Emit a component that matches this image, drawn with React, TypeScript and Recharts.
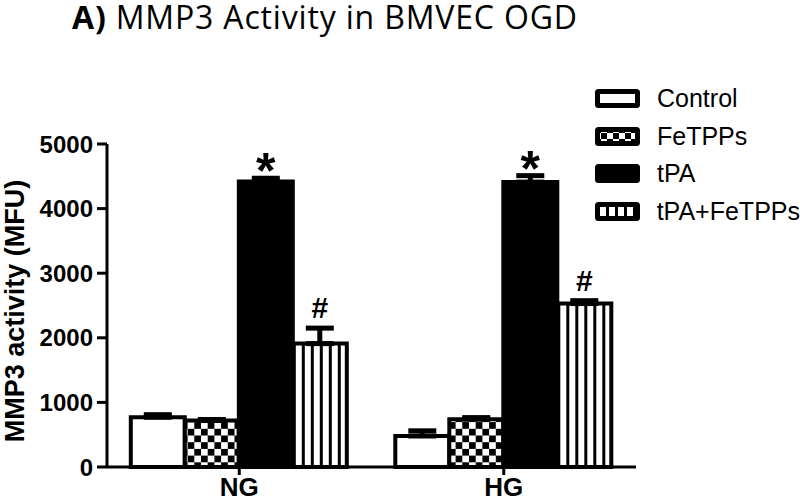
import React from "react";
import { BarChart, Bar, XAxis, YAxis, ErrorBar, LabelList, Legend } from "recharts";

const categories = ["NG", "HG"];
const controlVals = [770, 480];
const controlErr = [40, 80];
const fetppsVals = [720, 740];
const fetppsErr = [15, 25];
const tpaVals = [4420, 4410];
const tpaErr = [50, 100];
const comboVals = [1910, 2530];
const comboErr = [240, 45];
const yTicks = [0, 1000, 2000, 3000, 4000, 5000];

const data = categories.map((c, i) => ({
  name: c,
  control: controlVals[i],
  controlErr: [0, controlErr[i]],
  fetpps: fetppsVals[i],
  fetppsErr: [0, fetppsErr[i]],
  tpa: tpaVals[i],
  tpaErr: [0, tpaErr[i]],
  combo: comboVals[i],
  comboErr: [0, comboErr[i]],
}));

const AXIS_FONT = "'Liberation Sans', Arial, sans-serif";

// symbol above the error bar, placed using the bar's own pixel scale
function markLabel(sym: string, errs: number[], fontSize: number, lift: number) {
  return (props: any) => {
    const { x, y, width, height, value, index } = props;
    const pxPer = height / value;
    const top = y - errs[index] * pxPer;
    return (
      <text
        x={x + width / 2}
        y={top - lift}
        textAnchor="middle"
        fontFamily={AXIS_FONT}
        fontWeight="bold"
        fontSize={fontSize}
        fill="#000"
      >
        {sym}
      </text>
    );
  };
}

function Swatch({ kind }: { kind: string }) {
  const id = "lg-" + kind;
  return (
    <svg width={45} height={19} style={{ display: "block" }}>
      <defs>
        <pattern id={id + "-chk"} width={12} height={12} patternUnits="userSpaceOnUse">
          <rect width={12} height={12} fill="#fff" />
          <rect width={6} height={6} fill="#000" />
          <rect x={6} y={6} width={6} height={6} fill="#000" />
        </pattern>
        <pattern id={id + "-str"} width={9} height={19} patternUnits="userSpaceOnUse" x={2}>
          <rect width={9} height={19} fill="#fff" />
          <rect width={3} height={19} fill="#000" />
        </pattern>
      </defs>
      <rect
        x={2.5}
        y={2.5}
        width={40}
        height={14}
        rx={1}
        fill={
          kind === "control" ? "#fff" : kind === "fetpps" ? `url(#${id}-chk)` : kind === "tpa" ? "#000" : `url(#${id}-str)`
        }
        stroke="#000"
        strokeWidth={5}
      />
    </svg>
  );
}

function LegendBox(props: any) {
  const { payload } = props;
  return (
    <div>
      {(payload || []).map((p: any) => (
        <div
          key={p.dataKey}
          style={{ display: "flex", alignItems: "center", height: 37.5 }}
        >
          <Swatch kind={p.dataKey} />
          <span
            style={{
              marginLeft: 17,
              fontFamily: AXIS_FONT,
              fontSize: 25,
              color: "#000",
              whiteSpace: "nowrap",
            }}
          >
            {p.value}
          </span>
        </div>
      ))}
    </div>
  );
}

export default function App() {
  return (
    <div style={{ position: "absolute", left: 0, top: 0, width: 800, height: 501, background: "#fff", overflow: "hidden" }}>
      <BarChart
        width={800}
        height={501}
        data={data}
        margin={{ top: 144, right: 164, bottom: 0, left: 47 }}
        barCategoryGap="9%"
        barGap={0}
      >
        <defs>
          <pattern id="checker" width={13.4} height={13.4} patternUnits="userSpaceOnUse">
            <rect width={13.4} height={13.4} fill="#fff" />
            <rect width={6.7} height={6.7} fill="#000" />
            <rect x={6.7} y={6.7} width={6.7} height={6.7} fill="#000" />
          </pattern>
          <pattern id="stripes" width={1 / 6} height={1} patternUnits="objectBoundingBox">
            <rect width={20} height={2000} fill="#fff" />
            <rect width={3} height={2000} fill="#000" />
          </pattern>
        </defs>
        <XAxis
          dataKey="name"
          height={34}
          tickSize={8}
          tickMargin={3}
          axisLine={{ stroke: "#000", strokeWidth: 3 }}
          tickLine={{ stroke: "#000", strokeWidth: 3 }}
          tick={{ fill: "#000", fontFamily: AXIS_FONT, fontWeight: "bold", fontSize: 26 }}
        />
        <YAxis
          width={60}
          domain={[0, 5000]}
          ticks={yTicks}
          interval={0}
          tickSize={10}
          tickMargin={4}
          axisLine={{ stroke: "#000", strokeWidth: 3 }}
          tickLine={{ stroke: "#000", strokeWidth: 3 }}
          tick={{ fill: "#000", fontFamily: AXIS_FONT, fontWeight: "bold", fontSize: 24 }}
        />
        <Legend
          layout="vertical"
          align="center"
          verticalAlign="middle"
          content={<LegendBox />}
          wrapperStyle={{ position: "absolute", left: 595, top: 80, width: 205, height: 160 }}
        />
        <Bar dataKey="control" name="Control" fill="#fff" stroke="#000" strokeWidth={4} isAnimationActive={false}>
          <ErrorBar dataKey="controlErr" width={14} strokeWidth={5} stroke="#000" direction="y" />
        </Bar>
        <Bar dataKey="fetpps" name="FeTPPs" fill="url(#checker)" stroke="#000" strokeWidth={4} isAnimationActive={false}>
          <ErrorBar dataKey="fetppsErr" width={14} strokeWidth={5} stroke="#000" direction="y" />
        </Bar>
        <Bar dataKey="tpa" name="tPA" fill="#000" stroke="#000" strokeWidth={4} isAnimationActive={false}>
          <ErrorBar dataKey="tpaErr" width={14} strokeWidth={5} stroke="#000" direction="y" />
          <LabelList dataKey="tpa" content={markLabel("*", tpaErr, 50, -10)} />
        </Bar>
        <Bar dataKey="combo" name="tPA+FeTPPs" fill="url(#stripes)" stroke="#000" strokeWidth={4} isAnimationActive={false}>
          <ErrorBar dataKey="comboErr" width={14} strokeWidth={5} stroke="#000" direction="y" />
          <LabelList dataKey="combo" content={markLabel("#", comboErr, 30, 10)} />
        </Bar>
      </BarChart>
      <svg width={800} height={501} style={{ position: "absolute", left: 0, top: 0, pointerEvents: "none" }}>
        <text
          x={72}
          y={29}
          fontFamily="'Open Sans', sans-serif"
          fontSize={32}
          fill="#000"
          textLength={505}
          lengthAdjust="spacing"
        >
          <tspan fontWeight="bold">A)</tspan>
          <tspan> MMP3 Activity in BMVEC OGD</tspan>
        </text>
        <text
          transform="translate(24, 311) rotate(-90)"
          textAnchor="middle"
          fontFamily={AXIS_FONT}
          fontWeight="bold"
          fontSize={27}
          fill="#000"
        >
          MMP3 activity (MFU)
        </text>
      </svg>
    </div>
  );
}
